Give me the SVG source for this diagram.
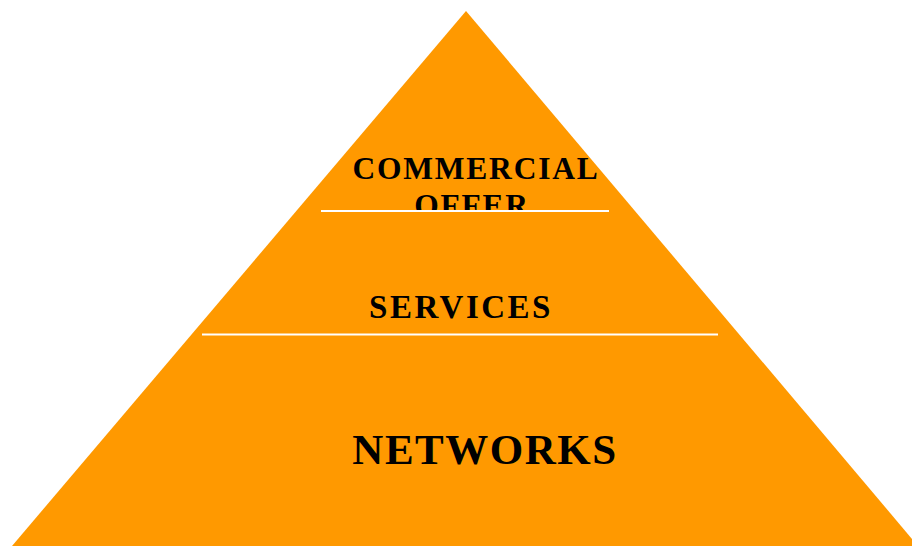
<svg xmlns="http://www.w3.org/2000/svg" width="912" height="546" viewBox="0 0 912 546">
<style>
.lbl{font-family:"Liberation Serif","Times New Roman",serif;font-weight:bold;fill:#000;text-anchor:middle}
.sep{stroke:#fff;stroke-width:2}
</style>
<defs>
<clipPath id="topclip"><rect x="0" y="0" width="912" height="212"/></clipPath>
</defs>
<rect width="912" height="546" fill="#fff"/>
<g id="pyramid">
<polygon points="466,11 12,546 918,546" fill="#FF9900"/>
</g>
<g id="commercial-offer" clip-path="url(#topclip)">
<text class="lbl" x="476" y="179" font-size="31.5" letter-spacing="1.8">COMMERCIAL</text>
<text class="lbl" x="472" y="216" font-size="31.5" letter-spacing="1.8">OFFER</text>
</g>
<g id="services">
<text class="lbl" x="461" y="318" font-size="33" letter-spacing="2.5">SERVICES</text>
</g>
<g id="networks">
<text class="lbl" x="485" y="464" font-size="43" letter-spacing="1.5">NETWORKS</text>
</g>
<g id="connectors">
<line class="sep" x1="321" y1="211" x2="609" y2="211"/>
<line class="sep" x1="202" y1="334.5" x2="718" y2="334.5"/>
</g>
</svg>
